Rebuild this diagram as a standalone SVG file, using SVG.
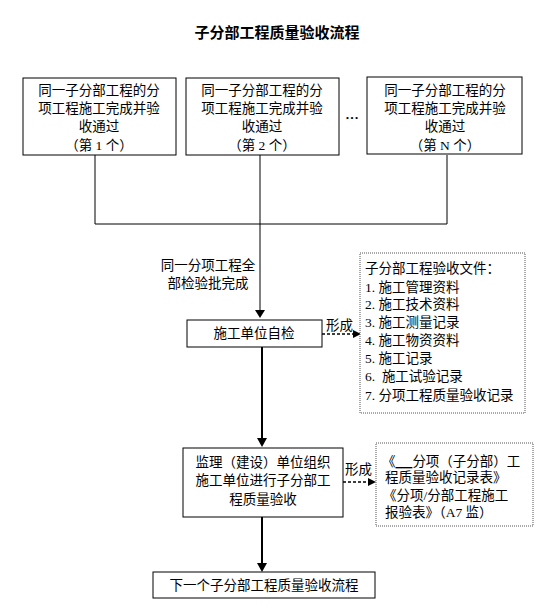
<svg xmlns="http://www.w3.org/2000/svg" width="553" height="610" viewBox="0 0 553 610">
<style>
text{font-family:"Liberation Serif","Noto Sans CJK SC",serif;font-size:13.5px;fill:#000}
.c{text-anchor:middle}
.t{font-family:"Noto Sans CJK SC",sans-serif;font-size:15px;font-weight:bold}
.box{fill:#fff;stroke:#000;stroke-width:1}
.dot{fill:#fff;stroke:#555;stroke-width:1;stroke-dasharray:1 1}
.ln{fill:none;stroke:#000;stroke-width:1}
.lnb{fill:none;stroke:#000;stroke-width:2}
.dash{fill:none;stroke:#000;stroke-width:1.5;stroke-dasharray:3 2}
</style>
<text class="t c" x="277" y="38">子分部工程质量验收流程</text>

<g id="connectors">
<polyline class="ln" points="95,155 95,224 447,224 447,155"/>
<line class="ln" x1="260" y1="155" x2="260" y2="310"/>
<path d="M255,310 L265,310 L260,318 z" fill="#000"/>
<line class="lnb" x1="262" y1="347" x2="262" y2="440"/>
<path d="M257,438 L267,438 L262,447 z" fill="#000"/>
<line class="lnb" x1="262" y1="517" x2="262" y2="564"/>
<path d="M257,563 L267,563 L262,572 z" fill="#000"/>
<line class="dash" x1="322" y1="334" x2="354" y2="334"/>
<path d="M353,330 L361,334 L353,338 z" fill="#000"/>
<line class="dash" x1="343" y1="482" x2="369" y2="482"/>
<path d="M368,478 L376,482 L368,486 z" fill="#000"/>
<text x="326" y="330">形成</text>
<text x="345" y="474">形成</text>
<text class="c" x="208" y="270">同一分项工程全</text>
<text class="c" x="208" y="288">部检验批完成</text>
</g>

<g id="n1">
<rect class="box" x="23" y="78" width="153" height="77"/>
<text class="c" x="99" y="95">同一子分部工程的分</text>
<text class="c" x="99" y="113">项工程施工完成并验</text>
<text class="c" x="99" y="131">收通过</text>
<text class="c" x="99" y="150">（第 1 个）</text>
</g>
<g id="n2">
<rect class="box" x="186" y="78" width="153" height="77"/>
<text class="c" x="262" y="95">同一子分部工程的分</text>
<text class="c" x="262" y="113">项工程施工完成并验</text>
<text class="c" x="262" y="131">收通过</text>
<text class="c" x="262" y="150">（第 2 个）</text>
</g>
<g id="ellipsis">
<text class="c" x="352" y="119" style="font-weight:bold">…</text>
</g>
<g id="n3">
<rect class="box" x="367" y="77" width="155" height="77"/>
<text class="c" x="445" y="95">同一子分部工程的分</text>
<text class="c" x="445" y="113">项工程施工完成并验</text>
<text class="c" x="445" y="131">收通过</text>
<text class="c" x="445" y="150">（第 N 个）</text>
</g>
<g id="n4">
<rect class="box" x="187" y="320" width="135" height="27"/>
<text class="c" x="254" y="338">施工单位自检</text>
</g>
<g id="n5">
<rect class="dot" x="360" y="253" width="165" height="160"/>
<text x="365" y="273">子分部工程验收文件：</text>
<text x="365" y="292">1. 施工管理资料</text>
<text x="365" y="309">2. 施工技术资料</text>
<text x="365" y="327">3. 施工测量记录</text>
<text x="365" y="345">4. 施工物资资料</text>
<text x="365" y="363">5. 施工记录</text>
<text x="365" y="381">6.&#160;&#160;施工试验记录</text>
<text x="365" y="400">7. 分项工程质量验收记录</text>
</g>
<g id="n7">
<rect class="dot" x="376" y="443" width="157" height="83"/>
<text x="382" y="466">《<tspan text-decoration="underline">&#160;&#160;&#160;&#160;&#160;</tspan>分项（子分部）工</text>
<text x="385" y="482">程质量验收记录表》</text>
<text x="383" y="500">《分项/分部工程施工</text>
<text x="385" y="517">报验表》（A7 监）</text>
</g>
<g id="n6">
<rect class="box" x="183" y="448" width="160" height="69"/>
<text class="c" x="263" y="467">监理（建设）单位组织</text>
<text class="c" x="263" y="485">施工单位进行子分部工</text>
<text class="c" x="263" y="504">程质量验收</text>
</g>
<g id="n8">
<rect class="box" x="153" y="572" width="222" height="26"/>
<text class="c" x="264" y="590">下一个子分部工程质量验收流程</text>
</g>
</svg>
